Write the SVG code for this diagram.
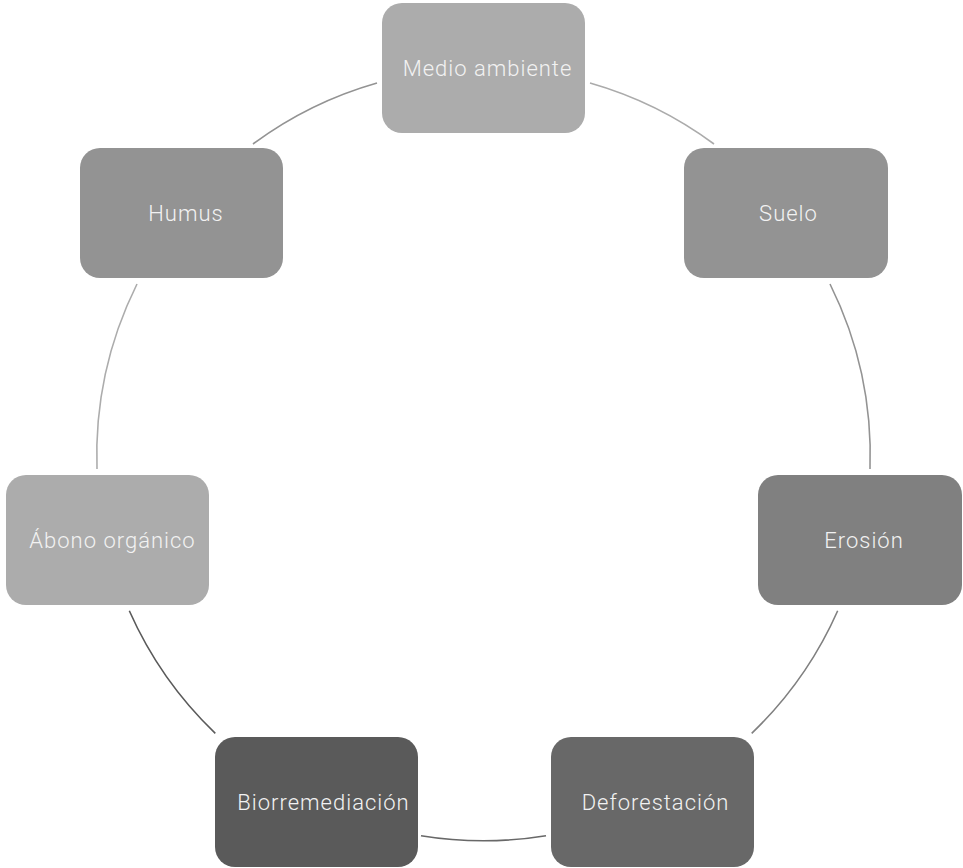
<svg xmlns="http://www.w3.org/2000/svg" width="963" height="868" viewBox="0 0 963 868">
<style>
.box{stroke:none}
.lbl{font-family:Roboto,"Liberation Sans","DejaVu Sans",sans-serif;font-weight:300;font-size:22px;fill:#f2f2f2;text-anchor:middle;letter-spacing:1px}
.arc{fill:none;stroke-width:1.6}
</style>
<rect width="963" height="868" fill="#ffffff"/>
<g id="connectors">
<path class="arc" stroke="#ababab" d="M590,83 A386.5,386.5 0 0 1 714,144"/>
<path class="arc" stroke="#939393" d="M830,284 A386.5,386.5 0 0 1 870,469"/>
<path class="arc" stroke="#808080" d="M837.7,610.7 A386.5,386.5 0 0 1 751.7,733.3"/>
<path class="arc" stroke="#686868" d="M546,835.7 A386.5,386.5 0 0 1 421,835.7"/>
<path class="arc" stroke="#5a5a5a" d="M215.3,733.3 A386.5,386.5 0 0 1 129.3,610.7"/>
<path class="arc" stroke="#acacac" d="M97,469 A386.5,386.5 0 0 1 137,284"/>
<path class="arc" stroke="#939393" d="M253,144 A386.5,386.5 0 0 1 377,83"/>
</g>
<g id="n-medio">
<rect class="box" x="382" y="3" width="203" height="130" rx="20" fill="#acacac"/>
<text class="lbl" x="487.5" y="76">Medio ambiente</text>
</g>
<g id="n-suelo">
<rect class="box" x="684" y="148" width="204" height="130" rx="20" fill="#939393"/>
<text class="lbl" x="788.5" y="221">Suelo</text>
</g>
<g id="n-erosion">
<rect class="box" x="758" y="475" width="204" height="130" rx="20" fill="#808080"/>
<text class="lbl" x="864" y="548">Erosión</text>
</g>
<g id="n-deforestacion">
<rect class="box" x="551" y="737" width="203" height="130" rx="20" fill="#686868"/>
<text class="lbl" x="655.5" y="810">Deforestación</text>
</g>
<g id="n-biorremediacion">
<rect class="box" x="215" y="737" width="203" height="130" rx="20" fill="#5a5a5a"/>
<text class="lbl" x="323.5" y="810">Biorremediación</text>
</g>
<g id="n-abono">
<rect class="box" x="6" y="475" width="203" height="130" rx="20" fill="#acacac"/>
<text class="lbl" x="112.5" y="548">Ábono orgánico</text>
</g>
<g id="n-humus">
<rect class="box" x="80" y="148" width="203" height="130" rx="20" fill="#939393"/>
<text class="lbl" x="186" y="221">Humus</text>
</g>
</svg>
